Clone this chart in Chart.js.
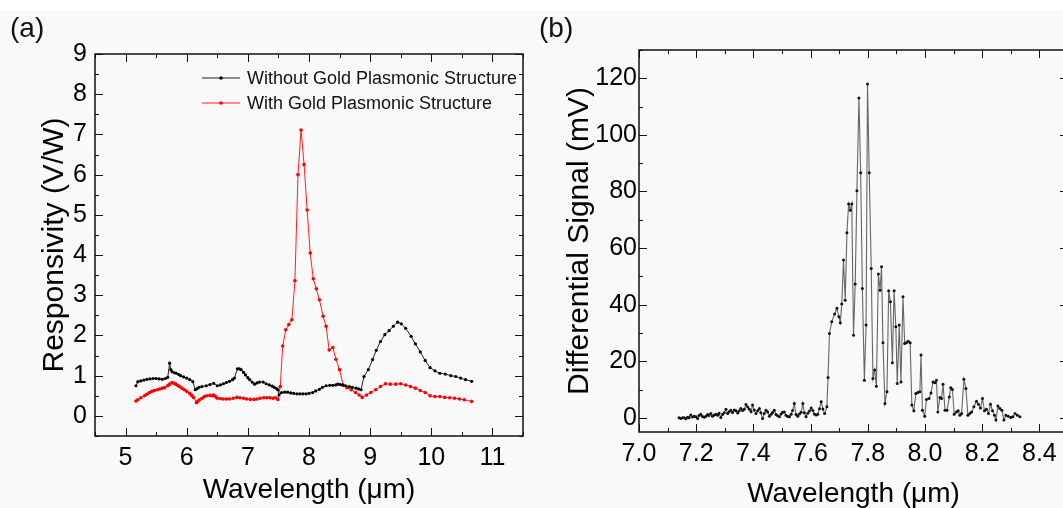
<!DOCTYPE html>
<html>
<head>
<meta charset="utf-8">
<script src="https://cdn.jsdelivr.net/npm/chart.js"></script>
<style>
  html, body { margin: 0; padding: 0; width: 1063px; height: 508px; overflow: hidden; background: #fff; }
  #bg { position: absolute; left: 0; top: 11px; width: 1063px; height: 497px; background: #f9f9f9; }
  .tag { position: absolute; top: 12px; font: 28px "Liberation Sans", Arial, sans-serif; color: #111; }
  #chartA { position: absolute; left: 0; top: 0; }
  #chartB { position: absolute; left: 540px; top: 0; }
</style>
</head>
<body>
<div id="bg"></div>
<canvas id="chartA" width="560" height="508"></canvas>
<canvas id="chartB" width="540" height="520"></canvas>
<div class="tag" style="left:10px">(a)</div>
<div class="tag" style="left:539px">(b)</div>
<script>
// (a) responsivity spectra
const wavNoGold = [5.17,5.20,5.25,5.30,5.35,5.40,5.45,5.50,5.55,5.60,5.65,5.69,5.72,5.74,5.76,5.80,5.83,5.87,5.90,5.95,
  6.00,6.05,6.10,6.14,6.17,6.20,6.25,6.32,6.38,6.44,6.50,6.55,6.60,6.65,6.70,6.75,6.78,6.83,6.86,6.89,6.93,6.96,
  7.00,7.03,7.07,7.11,7.15,7.19,7.25,7.30,7.35,7.40,7.43,7.47,7.49,7.51,7.55,7.60,7.65,7.70,7.75,7.80,7.85,7.90,7.95,
  8.00,8.06,8.11,8.17,8.22,8.28,8.34,8.39,8.44,8.47,8.51,8.55,8.60,8.66,8.71,8.77,8.81,8.85,8.90,8.97,
  9.04,9.10,9.17,9.24,9.31,9.38,9.45,9.51,9.58,9.67,9.74,9.82,9.90,9.98,10.06,10.14,10.23,10.32,10.40,10.48,10.56,10.66];
const respNoGold = [0.75,0.85,0.87,0.89,0.91,0.92,0.93,0.93,0.92,0.91,0.93,0.96,1.31,1.15,1.10,1.07,1.06,1.03,1.00,0.97,
  0.94,0.90,0.85,0.65,0.68,0.71,0.73,0.75,0.78,0.81,0.75,0.77,0.80,0.83,0.86,0.90,0.94,1.17,1.17,1.15,1.08,1.02,
  0.95,0.90,0.84,0.79,0.82,0.84,0.84,0.80,0.77,0.74,0.71,0.68,0.65,0.52,0.58,0.59,0.59,0.57,0.56,0.55,0.55,0.55,0.55,
  0.56,0.58,0.62,0.66,0.71,0.75,0.76,0.76,0.77,0.79,0.78,0.77,0.75,0.73,0.71,0.69,0.67,0.65,0.98,1.15,
  1.40,1.63,1.85,2.02,2.12,2.23,2.33,2.29,2.18,1.98,1.79,1.59,1.38,1.20,1.12,1.06,1.04,1.00,0.98,0.94,0.90,0.86];

const wavGold = [5.17,5.20,5.25,5.31,5.35,5.39,5.43,5.47,5.52,5.56,5.60,5.64,5.69,5.72,5.76,5.79,5.82,5.85,5.88,5.92,5.96,
  6.00,6.05,6.08,6.11,6.16,6.18,6.21,6.25,6.29,6.33,6.38,6.42,6.44,6.47,6.50,6.55,6.60,6.65,6.70,6.76,6.82,6.87,6.93,6.98,
  7.04,7.10,7.15,7.20,7.26,7.31,7.36,7.41,7.45,7.49,7.53,7.57,7.62,7.67,7.72,7.77,7.82,7.87,7.92,7.97,
  8.02,8.07,8.12,8.17,8.23,8.28,8.33,8.39,8.44,8.50,8.56,8.62,8.69,8.76,8.82,8.87,8.94,
  9.01,9.09,9.17,9.25,9.33,9.42,9.50,9.58,9.66,9.74,9.82,9.90,9.98,10.06,10.14,10.22,10.30,10.38,10.46,10.54,10.66];
const respGold = [0.37,0.40,0.45,0.50,0.54,0.58,0.61,0.63,0.65,0.67,0.69,0.70,0.75,0.79,0.83,0.81,0.79,0.76,0.73,0.69,0.65,
  0.61,0.56,0.51,0.46,0.33,0.36,0.40,0.44,0.48,0.50,0.51,0.50,0.52,0.48,0.44,0.43,0.42,0.42,0.42,0.44,0.46,0.45,0.44,0.42,
  0.41,0.41,0.42,0.44,0.45,0.45,0.45,0.44,0.45,0.41,0.73,1.74,2.14,2.27,2.39,3.36,6.00,7.11,6.25,5.12,
  4.05,3.41,3.16,2.89,2.48,2.23,1.64,1.70,1.41,1.15,0.76,0.70,0.65,0.58,0.52,0.46,0.52,
  0.58,0.65,0.73,0.80,0.79,0.79,0.80,0.77,0.73,0.69,0.63,0.58,0.50,0.48,0.48,0.46,0.45,0.44,0.42,0.40,0.36];

const xTicksA = [5, 6, 7, 8, 9, 10, 11];
const yTicksA = [0, 1, 2, 3, 4, 5, 6, 7, 8, 9];

// (b) differential signal
const wavSignal = [7.140,7.146,7.152,7.158,7.164,7.170,7.175,7.181,7.187,7.193,7.199,7.205,7.210,7.216,7.222,7.228,7.234,7.240,7.245,7.251,
  7.257,7.263,7.269,7.275,7.280,7.286,7.292,7.298,7.304,7.310,7.315,7.321,7.327,7.333,7.339,7.345,7.350,7.356,7.362,7.368,
  7.374,7.380,7.386,7.392,7.397,7.403,7.409,7.415,7.421,7.426,7.432,7.438,7.444,7.450,7.456,7.462,7.467,7.473,7.479,7.485,
  7.491,7.497,7.502,7.508,7.514,7.520,7.526,7.532,7.537,7.543,7.549,7.555,7.561,7.567,7.573,7.578,7.584,7.590,7.596,7.602,
  7.608,7.613,7.619,7.625,7.631,7.637,7.643,7.649,7.657,7.661,7.666,7.674,7.684,7.692,7.699,7.704,7.709,7.715,7.721,7.727,
  7.733,7.739,7.744,7.750,7.756,7.762,7.769,7.775,7.781,7.788,7.794,7.799,7.805,7.812,7.818,7.824,7.830,7.837,7.843,7.848,
  7.853,7.860,7.867,7.873,7.879,7.886,7.892,7.898,7.903,7.910,7.916,7.923,7.929,7.935,7.941,7.948,7.954,7.961,7.968,7.975,
  7.982,7.986,7.991,7.999,8.005,8.014,8.021,8.028,8.035,8.040,8.045,8.052,8.058,8.063,8.070,8.077,8.085,8.090,8.096,8.102,
  8.110,8.116,8.122,8.128,8.136,8.143,8.150,8.157,8.163,8.171,8.180,8.187,8.194,8.201,8.208,8.215,8.222,8.229,8.236,8.243,
  8.248,8.255,8.262,8.269,8.276,8.283,8.291,8.300,8.307,8.315,8.323,8.332];
const signalMV = [0.0,-0.2,0.0,0.0,-0.3,0.2,0.0,1.0,0.3,0.6,0.4,-0.2,0.8,1.3,0.5,0.2,0.6,1.2,0.8,1.5,
  0.6,1.0,1.3,0.9,1.6,0.1,1.2,1.8,3.0,1.5,2.2,2.7,1.9,2.8,2.5,1.7,2.4,3.3,2.6,3.0,
  4.7,3.8,3.0,2.2,4.5,2.8,1.5,2.5,3.3,1.8,-0.2,1.5,2.7,2.1,0.6,1.3,1.9,2.7,1.2,0.7,
  0.4,1.4,2.0,2.1,0.9,0.5,0.4,1.3,2.6,5.1,1.2,0.6,1.4,2.0,5.1,1.8,0.4,1.6,2.4,3.5,
  2.6,1.4,1.0,1.3,3.2,5.7,3.1,1.5,3.9,14.3,29.8,34.0,36.7,38.7,35.7,33.6,40.2,55.8,41.6,65.4,
  75.6,73.4,75.6,29.2,47.3,80.3,113.0,86.6,45.7,13.3,32.8,118.0,86.6,52.8,13.9,16.9,11.2,50.8,45.1,53.4,
  26.5,5.1,9.2,44.9,41.0,19.5,44.9,32.2,12.1,32.8,12.7,42.8,26.3,26.5,27.1,26.5,4.5,2.5,8.6,9.0,
  9.2,22.2,2.7,0.6,6.5,6.8,8.8,12.7,12.4,13.3,2.1,7.2,6.8,11.9,2.7,2.7,7.4,10.6,10.0,1.3,
  2.1,2.5,0.9,1.5,13.6,10.4,0.9,1.5,2.1,3.9,5.9,4.8,3.5,6.8,2.5,3.0,1.5,4.8,2.5,0.9,
  -0.8,4.2,3.3,2.7,-0.8,0.9,0.6,0.1,0.4,1.5,0.9,0.4];

const xTicksB = [7.0, 7.2, 7.4, 7.6, 7.8, 8.0, 8.2, 8.4];
const yTicksB = [0, 20, 40, 60, 80, 100, 120];

const FONT = '"Liberation Sans", Arial, sans-serif';
Chart.defaults.font.family = FONT;
Chart.defaults.color = '#000';

const pairUp = (xs, ys) => xs.map((x, i) => ({ x: x, y: ys[i] }));
const midpoints = (vals) => vals.slice(0, -1).map((v, i) => (v + vals[i + 1]) / 2);

// inward major/minor ticks on all four sides plus the frame
const frameTicks = {
  id: 'frameTicks',
  afterDraw(chart, args, opts) {
    const { ctx, chartArea: a } = chart;
    const xs = chart.scales.x, ys = chart.scales.y;
    ctx.save();
    ctx.strokeStyle = '#111';
    ctx.lineWidth = 1;
    const xMarks = (vals, len) => vals.forEach(v => {
      if (v < xs.min || v > xs.max) return;
      const px = Math.round(xs.getPixelForValue(v)) + 0.5;
      ctx.beginPath();
      ctx.moveTo(px, a.bottom); ctx.lineTo(px, a.bottom - len);
      ctx.moveTo(px, a.top); ctx.lineTo(px, a.top + len);
      ctx.stroke();
    });
    const yMarks = (vals, len) => vals.forEach(v => {
      if (v < ys.min || v > ys.max) return;
      const py = Math.round(ys.getPixelForValue(v)) + 0.5;
      ctx.beginPath();
      ctx.moveTo(a.left, py); ctx.lineTo(a.left + len, py);
      ctx.moveTo(a.right, py); ctx.lineTo(a.right - len, py);
      ctx.stroke();
    });
    xMarks(opts.xMajor, 8); xMarks(opts.xMinor, 4);
    yMarks(opts.yMajor, 8); yMarks(opts.yMinor, 4);
    ctx.lineWidth = 1.5;
    ctx.strokeRect(a.left, a.top, a.right - a.left, a.bottom - a.top);
    ctx.restore();
  }
};

// legend drawn inside the plot box
const insideLegend = {
  id: 'insideLegend',
  afterDraw(chart, args, opts) {
    if (!opts.show) return;
    const { ctx, chartArea: a } = chart;
    ctx.save();
    ctx.font = '18px ' + FONT;
    ctx.textBaseline = 'middle';
    chart.data.datasets.forEach((ds, i) => {
      const y = a.top + opts.y + i * opts.gap;
      const x0 = a.left + opts.x;
      ctx.strokeStyle = ds.borderColor;
      ctx.lineWidth = 1;
      ctx.beginPath(); ctx.moveTo(x0, y); ctx.lineTo(x0 + 38, y); ctx.stroke();
      ctx.fillStyle = ds.pointBackgroundColor;
      ctx.beginPath(); ctx.arc(x0 + 19, y, 1.8, 0, Math.PI * 2); ctx.fill();
      ctx.fillStyle = '#111';
      ctx.fillText(ds.label, x0 + 45, y + 1);
    });
    ctx.restore();
  }
};

new Chart(document.getElementById('chartA'), {
  type: 'line',
  data: {
    datasets: [{
      label: 'Without Gold Plasmonic Structure',
      data: pairUp(wavNoGold, respNoGold),
      borderColor: '#222',
      pointBackgroundColor: '#000',
      pointBorderColor: '#000',
      borderWidth: 1,
      pointRadius: 1.6,
      pointBorderWidth: 0
    }, {
      label: 'With Gold Plasmonic Structure',
      data: pairUp(wavGold, respGold),
      borderColor: '#ff2020',
      pointBackgroundColor: '#ff0000',
      pointBorderColor: '#ff0000',
      borderWidth: 1,
      pointRadius: 1.8,
      pointBorderWidth: 0
    }]
  },
  options: {
    responsive: false,
    animation: false,
    devicePixelRatio: 1,
    layout: { padding: { top: 54, right: 37, left: 0, bottom: 0 } },
    plugins: {
      legend: { display: false },
      tooltip: { enabled: false },
      frameTicks: { xMajor: xTicksA, xMinor: [4.5, ...midpoints(xTicksA), 11.5], yMajor: yTicksA, yMinor: [-0.5, ...midpoints(yTicksA)] },
      insideLegend: { show: true, x: 107, y: 24, gap: 25 }
    },
    scales: {
      x: {
        type: 'linear', min: 4.5, max: 11.5,
        afterBuildTicks: s => { s.ticks = xTicksA.map(v => ({ value: v })); },
        afterFit: s => { s.height = 72; },
        grid: { display: false, drawTicks: false },
        border: { display: false },
        ticks: { font: { size: 25 }, padding: 7, maxRotation: 0 },
        title: { display: true, text: 'Wavelength (\u03bcm)', font: { size: 28 }, padding: { top: 0, bottom: 1 } }
      },
      y: {
        min: -0.5, max: 9,
        afterBuildTicks: s => { s.ticks = yTicksA.map(v => ({ value: v })); },
        afterFit: s => { s.width = 95; },
        grid: { display: false, drawTicks: false },
        border: { display: false },
        ticks: { font: { size: 25 }, padding: 8 },
        title: { display: true, text: 'Responsivity (V/W)', font: { size: 30 }, padding: { top: 37, bottom: 0 } }
      }
    }
  },
  plugins: [frameTicks, insideLegend]
});

new Chart(document.getElementById('chartB'), {
  type: 'line',
  data: {
    datasets: [{
      label: 'Differential Signal',
      data: pairUp(wavSignal, signalMV),
      borderColor: '#666',
      pointBackgroundColor: '#111',
      pointBorderColor: '#111',
      borderWidth: 1.1,
      pointRadius: 1.5,
      pointBorderWidth: 0
    }]
  },
  options: {
    responsive: false,
    animation: false,
    devicePixelRatio: 1,
    layout: { padding: { top: 50, right: 12, left: 0, bottom: 0 } },
    plugins: {
      legend: { display: false },
      tooltip: { enabled: false },
      frameTicks: { xMajor: xTicksB, xMinor: [...midpoints(xTicksB), 8.5], yMajor: yTicksB, yMinor: midpoints(yTicksB).concat([130]) },
      insideLegend: { show: false }
    },
    scales: {
      x: {
        type: 'linear', min: 7.0, max: 8.5,
        afterBuildTicks: s => { s.ticks = xTicksB.map(v => ({ value: v })); },
        afterFit: s => { s.height = 88; },
        grid: { display: false, drawTicks: false },
        border: { display: false },
        ticks: { font: { size: 25 }, padding: 7, maxRotation: 0, callback: v => v.toFixed(1) },
        title: { display: true, text: 'Wavelength (\u03bcm)', font: { size: 28 }, padding: { top: 0, bottom: 9 } }
      },
      y: {
        min: -5, max: 130,
        afterBuildTicks: s => { s.ticks = yTicksB.map(v => ({ value: v })); },
        afterFit: s => { s.width = 99; },
        grid: { display: false, drawTicks: false },
        border: { display: false },
        ticks: { font: { size: 25 }, padding: 2 },
        title: { display: true, text: 'Differential Signal (mV)', font: { size: 30 }, padding: { top: 22, bottom: 0 } }
      }
    }
  },
  plugins: [frameTicks, insideLegend]
});
</script>
</body>
</html>
